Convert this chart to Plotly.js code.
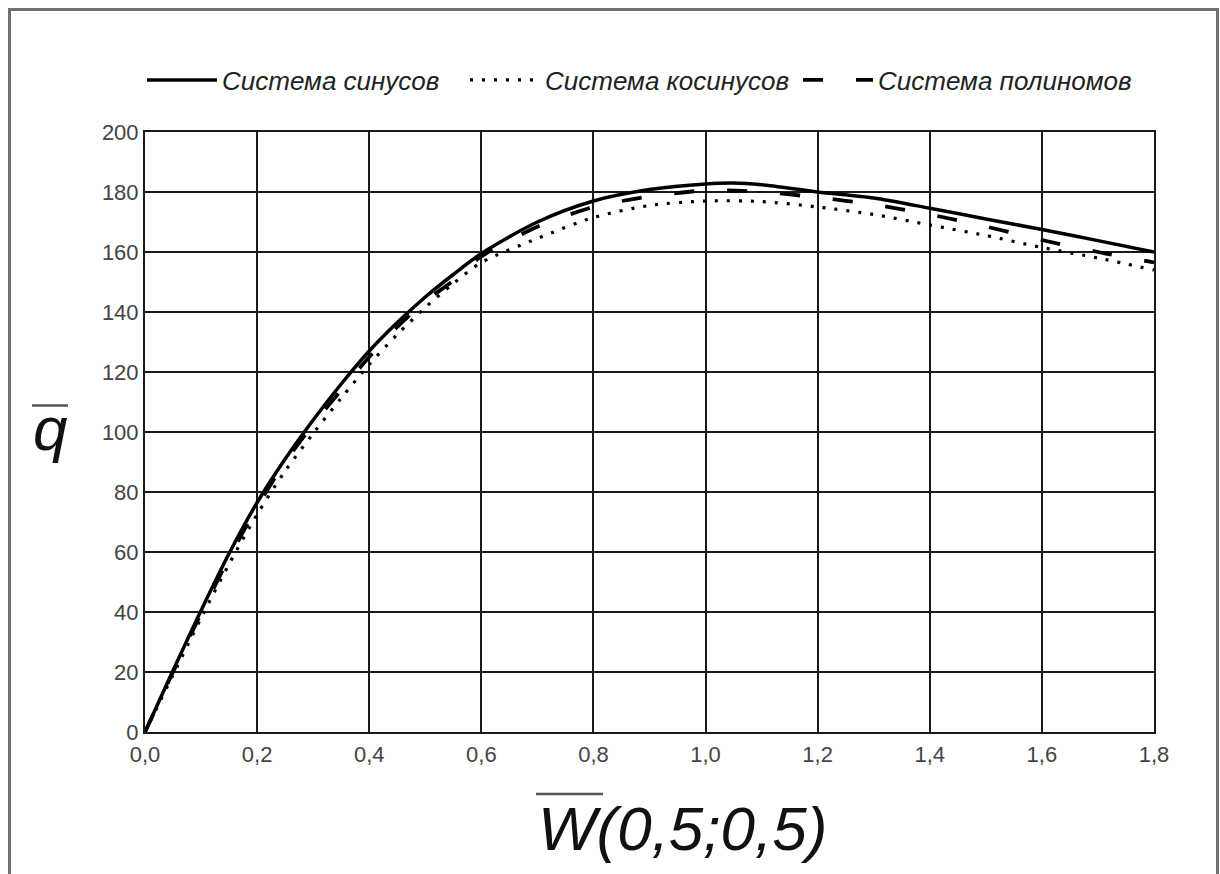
<!DOCTYPE html>
<html>
<head>
<meta charset="utf-8">
<script src="https://cdn.plot.ly/plotly-3.0.1.min.js"></script>
<style>
  html, body { margin: 0; padding: 0; background: #fff; }
  #chart { width: 1220px; height: 874px; }
</style>
</head>
<body>
<div id="chart"></div>
<script>
// ---- data ----
const seriesNames = ["Система синусов", "Система косинусов", "Система полиномов"];

const xSin = [0, 0.05, 0.1, 0.15, 0.2, 0.25, 0.3, 0.35, 0.4, 0.45, 0.5, 0.55, 0.6, 0.7, 0.8, 0.9, 1.0, 1.05, 1.1, 1.2, 1.3, 1.4, 1.5, 1.6, 1.7, 1.8];
const ySin = [0, 20.5, 40.5, 59.5, 76.5, 91, 104, 116, 127, 136.5, 145, 152.5, 159.5, 170, 177, 180.8, 182.7, 183, 182.4, 180, 178, 174.6, 171, 167.5, 163.8, 160];

const xCos = [0, 0.05, 0.1, 0.15, 0.2, 0.25, 0.3, 0.35, 0.4, 0.45, 0.5, 0.55, 0.6, 0.7, 0.8, 0.9, 1.0, 1.1, 1.2, 1.3, 1.4, 1.5, 1.6, 1.7, 1.8];
const yCos = [0, 19, 38, 56, 72.5, 87, 99.5, 111.3, 122.5, 132.5, 141.5, 149.5, 156.5, 164.5, 171.5, 175.5, 177, 176.8, 175, 172.5, 169, 165.5, 161.5, 158, 154];

const xPol = [0, 0.05, 0.1, 0.15, 0.2, 0.25, 0.3, 0.35, 0.4, 0.45, 0.5, 0.55, 0.6, 0.7, 0.8, 0.9, 1.0, 1.1, 1.2, 1.3, 1.4, 1.5, 1.6, 1.7, 1.8];
const yPol = [0, 20, 39.5, 58, 75, 90, 102.5, 114, 125, 135, 143.5, 150.5, 158.5, 168.4, 175, 178.5, 180.5, 180, 178.2, 175.8, 172.5, 168.5, 164, 160, 156.5];

const xTicks = [0, 0.2, 0.4, 0.6, 0.8, 1.0, 1.2, 1.4, 1.6, 1.8];
const yTicks = [0, 20, 40, 60, 80, 100, 120, 140, 160, 180, 200];

const FONT = "Liberation Sans, Arial, sans-serif";

const traces = [
  { x: xSin, y: ySin, name: seriesNames[0], mode: "lines", legend: "legend",
    line: { color: "#000", width: 3.5, shape: "spline", smoothing: 0.8 } },
  { x: xCos, y: yCos, name: seriesNames[1], mode: "lines", legend: "legend2",
    line: { color: "#000", width: 3.2, dash: "3px,9px", shape: "spline", smoothing: 0.8 } },
  { x: xPol, y: yPol, name: seriesNames[2], mode: "lines", legend: "legend3",
    line: { color: "#000", width: 3.8, dash: "20px,33px", shape: "spline", smoothing: 0.8 } }
];

const px = v => (v - 145) / 1009;   // pixel -> paper x
const py = v => (732 - v) / 600;    // pixel -> paper y

const legendBase = (xpix) => ({
  orientation: "h", x: px(xpix), xanchor: "left", y: py(80), yanchor: "middle",
  font: { family: FONT, size: 26, color: "#222", style: "italic" },
  itemwidth: 70, bgcolor: "rgba(0,0,0,0)"
});

const layout = {
  width: 1220, height: 874,
  margin: { l: 145, r: 66, t: 132, b: 142 },
  paper_bgcolor: "#fff", plot_bgcolor: "#fff",
  separators: ",.",
  font: { family: FONT, color: "#333" },
  showlegend: true,
  legend: legendBase(142),
  legend2: legendBase(465),
  legend3: legendBase(798),
  xaxis: {
    range: [0, 1.8], tickvals: xTicks, tickformat: ".1f",
    showgrid: true, gridcolor: "#1a1a1a", gridwidth: 2,
    showline: true, linecolor: "#1a1a1a", linewidth: 2, mirror: true,
    zeroline: false, ticks: "", ticklabelstandoff: 2,
    tickfont: { family: FONT, size: 22, color: "#444" }, fixedrange: true
  },
  yaxis: {
    range: [0, 200], tickvals: yTicks,
    showgrid: true, gridcolor: "#1a1a1a", gridwidth: 2,
    showline: true, linecolor: "#1a1a1a", linewidth: 2, mirror: true,
    zeroline: false, ticks: "", ticklabelstandoff: 0,
    tickfont: { family: FONT, size: 22, color: "#444" }, fixedrange: true
  },
  annotations: [
    { text: "q", xref: "paper", yref: "paper", x: px(50), y: py(428),
      xanchor: "center", yanchor: "middle", showarrow: false,
      font: { family: FONT, size: 62, color: "#111", style: "italic" } },
    { text: "W(0,5;0,5)", xref: "paper", yref: "paper", x: px(682), y: py(828),
      xanchor: "center", yanchor: "middle", showarrow: false,
      font: { family: FONT, size: 62, color: "#111", style: "italic" } }
  ],
  shapes: [
    { type: "rect", xref: "paper", yref: "paper", layer: "above",
      x0: px(9.5), x1: px(1217.5), y0: py(900), y1: py(9.5),
      line: { color: "#707070", width: 3 } },
    { type: "line", xref: "paper", yref: "paper",
      x0: px(32), x1: px(68), y0: py(405.5), y1: py(405.5),
      line: { color: "#555", width: 2.5 } },
    { type: "line", xref: "paper", yref: "paper",
      x0: px(536), x1: px(603), y0: py(794), y1: py(794),
      line: { color: "#555", width: 2.5 } }
  ]
};

Plotly.newPlot("chart", traces, layout, { staticPlot: true, displayModeBar: false });
</script>
</body>
</html>
